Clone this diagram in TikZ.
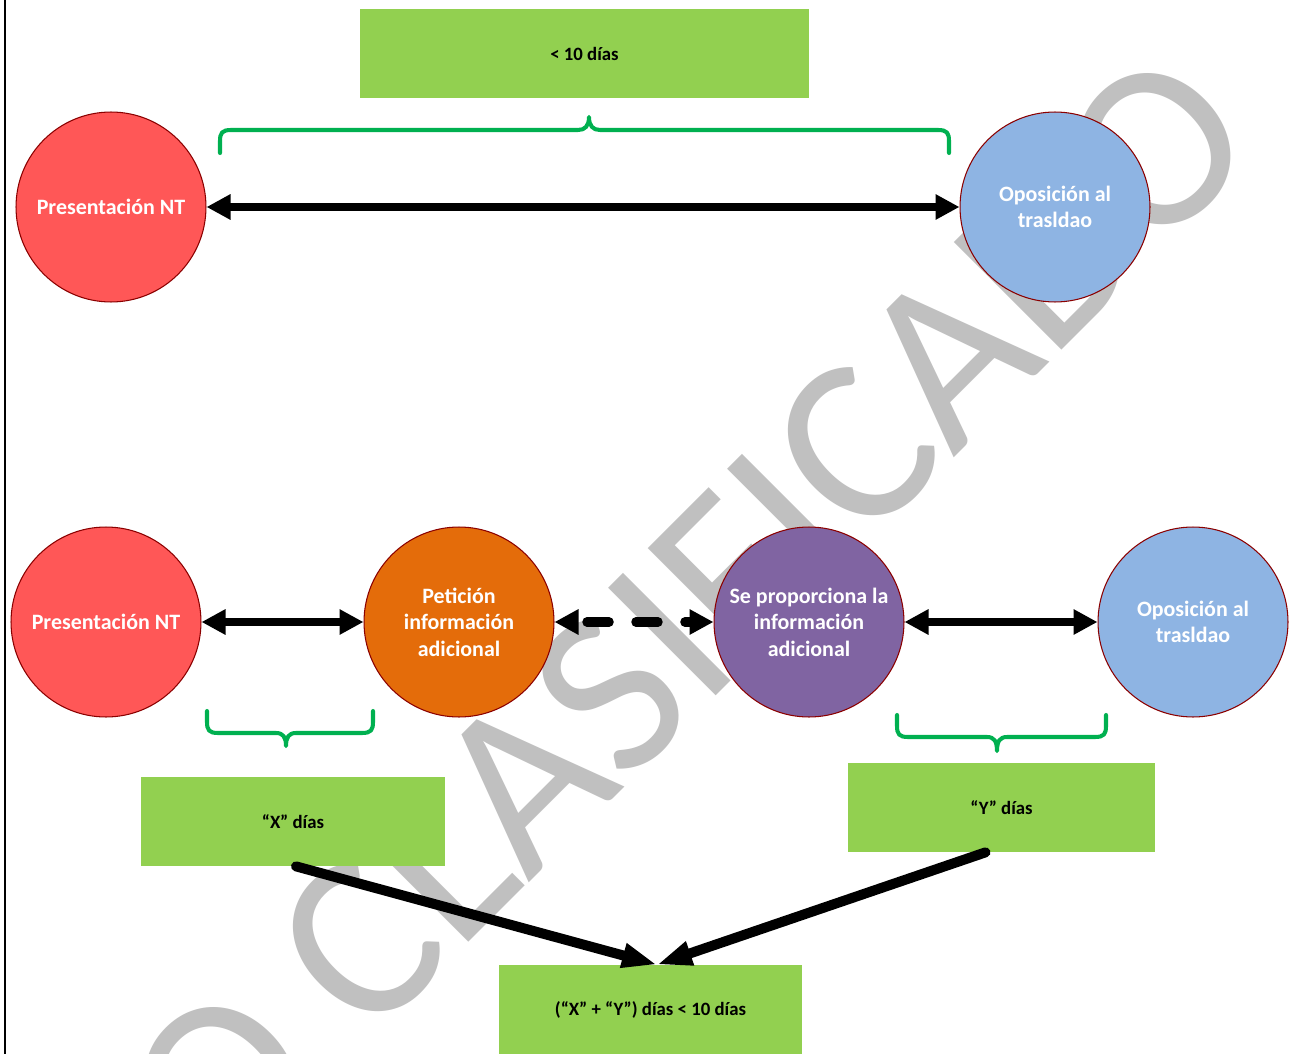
\documentclass[tikz,border=0pt]{standalone}
\usepackage{fontspec}
\setmainfont{Carlito}
\usetikzlibrary{arrows.meta,calc}
\definecolor{cred}{HTML}{FF5757}
\definecolor{cblue}{HTML}{8EB4E3}
\definecolor{corange}{HTML}{E46C0A}
\definecolor{cpurple}{HTML}{8064A2}
\definecolor{cborder}{HTML}{8B0000}
\definecolor{cgreen}{HTML}{92D050}
\definecolor{cbrace}{HTML}{00B050}
\definecolor{wmgray}{HTML}{C0C0C0}
\begin{document}
\begin{tikzpicture}[x=0.02cm,y=-0.02cm,
  circ/.style={circle, draw=cborder, line width=0.6pt, minimum size=3.8cm, inner sep=0pt,
    text=white, font=\bfseries\fontsize{12.5}{15.1}\selectfont, align=center},
  gbox/.style={rectangle, fill=cgreen, inner sep=0pt, minimum height=1.78cm,
    font=\bfseries\fontsize{10.7}{13}\selectfont},
  dbl/.style={line width=0.16cm, {Triangle[length=0.48cm,width=0.48cm]}-{Triangle[length=0.48cm,width=0.48cm]}},
  dashdbl/.style={dbl, line width=0.19cm, line cap=round, dash pattern=on 0.44cm off 0.54cm, dash phase=0.78cm},
  diag/.style={line width=0.2cm, line cap=round, -{Triangle[length=0.7cm,width=0.46cm]}},
  brace/.style={draw=cbrace, line width=2.3pt, line cap=round, line join=round},
  frameline/.style={line width=0.06cm}
]
\useasboundingbox (0,0) rectangle (1291,1054);
\fill[white] (0,0) rectangle (1291,1054);
% watermark
\begin{scope}
\clip (0,0) rectangle (1291,1054);
\node[rotate=45, inner sep=0pt, text=wmgray, font=\fontsize{135}{135}\selectfont] (wm) at (634,670) {NO CLASIFICADO};
\end{scope}
% left frame line
\draw[frameline] (5,0) -- (5,1054);

% top row
\node[gbox, minimum width=8.98cm] (t10) at (584.5,53.5) {< 10 días};
\node[circ, fill=cred] (p1) at (111,207) {Presentación NT};
\node[circ, fill=cblue] (o1) at (1055,207) {Oposición al\\trasldao};
\draw[brace] (220,153) -- (220,141) .. controls (220,133) and (222,130) .. (231,130) -- (578,130)
  .. controls (585,130) and (589,126) .. (589,117) .. controls (589,126) and (593,130) .. (600,130)
  -- (938,130) .. controls (947,130) and (949,133) .. (949,141) -- (949,153);
\draw[dbl] (p1) -- (o1);

% bottom row
\node[circ, fill=cred] (p2) at (106,622) {Presentación NT};
\node[circ, fill=corange] (pet) at (459,622) {Petición\\información\\adicional};
\node[circ, fill=cpurple] (se) at (809,622) {Se proporciona la\\información\\adicional};
\node[circ, fill=cblue] (o2) at (1193,622) {Oposición al\\trasldao};
\draw[dbl] (p2) -- (pet);
\draw[dashdbl] (pet) -- (se);
\draw[dbl] (se) -- (o2);

\draw[brace] (207,711) -- (207,722) .. controls (207,730) and (209,733) .. (218,733) -- (276,733)
  .. controls (283,733) and (286,737) .. (286,746) .. controls (286,737) and (289,733) .. (296,733)
  -- (362,733) .. controls (371,733) and (373,730) .. (373,722) -- (373,711);
\draw[brace] (897,715) -- (897,726) .. controls (897,734) and (899,737) .. (908,737) -- (987,737)
  .. controls (994,737) and (997,741) .. (997,751) .. controls (997,741) and (1000,737) .. (1007,737)
  -- (1095,737) .. controls (1104,737) and (1106,734) .. (1106,726) -- (1106,715);

\node[gbox, minimum width=6.08cm] (xbox) at (293,821.5) {“X” días};
\node[gbox, minimum width=6.14cm] (ybox) at (1001.5,807.5) {“Y” días};
\node[gbox, minimum width=6.06cm] (fin) at (650.5,1009.5) {(“X” + “Y”) días < 10 días};

\coordinate (xs) at ($(xbox.south)+(3,0)$);
\coordinate (ys) at ($(ybox.south)+(-16,0)$);
\coordinate (tip) at ($(fin.north)+(6.5,0)$);
\draw[diag] (xs) -- (tip);
\draw[diag] (ys) -- (tip);
\end{tikzpicture}
\end{document}
